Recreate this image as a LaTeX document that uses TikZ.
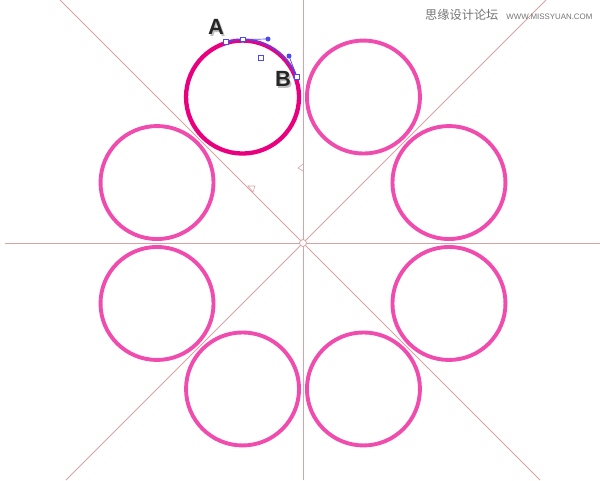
\documentclass[tikz,border=0pt]{standalone}
\usepackage{fontspec}
\setmainfont{Liberation Sans}
\newfontfamily\cjk{Noto Sans CJK SC}
\definecolor{guide}{HTML}{D9A3A3}
\definecolor{ring}{HTML}{F04CAE}
\definecolor{ringsel}{HTML}{E8007F}
\definecolor{pathblue}{HTML}{4A4AF0}
\tikzset{
  guideline/.style={guide,line width=0.8pt},
  ringline/.style={ring,line width=3.9pt},
  anchorpt/.style={rectangle,draw=pathblue,fill=white,line width=0.7pt,
    minimum size=4.5pt,inner sep=0pt},
  handlept/.style={circle,fill=pathblue,minimum size=5pt,inner sep=0pt},
  letter/.style={font=\bfseries\fontsize{22}{22}\selectfont}
}
\begin{document}
\begin{tikzpicture}[x=1pt,y=-1pt]
    \useasboundingbox (0,0) rectangle (600,480);
    %% guides
    \coordinate (o) at (303,243);
    \draw[guideline] (5,243) -- (600,243);
    \draw[guideline] (303,0) -- (303,480);
    \draw[guideline] (60,0) -- (540,480);
    \draw[guideline] (546,0) -- (66,480);
    \draw[guideline,line width=0.6pt] (248,186) -- (255,186) -- (253,192) -- cycle;
    \draw[guideline,line width=0.6pt] (303,164) -- (298,168) -- (303,171);
    \draw[guideline,fill=white] (o) circle (3.5);
    %% rings
    \foreach \a in {-67.5,-22.5,...,202.5}
        \draw[ringline] (o) ++(\a:158) circle (56.5);
    \draw[ringline,ringsel,line width=4.3pt] (o) ++(-112.5:158) coordinate (c1) circle (56.5);
    %% selected path
    \coordinate (pA) at (226,42);
    \coordinate (pT) at (243,39.5);
    \coordinate (pB) at (297,77);
    \coordinate (h1) at (268,39);
    \coordinate (h2) at (289,56);
    \draw[pathblue,line width=1.1pt] (pA) arc (-107:-20:57);
    \draw[pathblue,line width=0.7pt] (pT) -- (h1);
    \draw[pathblue,line width=0.7pt] (h2) -- (pB);
    \node[handlept] (n1) at (h1) {};
    \node[handlept] (n2) at (h2) {};
    \node[anchorpt] (a1) at (pA) {};
    \node[anchorpt] (a2) at (pT) {};
    \node[anchorpt] (a3) at (pB) {};
    \node[anchorpt] (cc) at (261,58) {};
    %% labels
    \node[letter,black!25] at (217.5,28.5) {A};
    \node[letter,black!85] (la) at (216,27) {A};
    \node[letter,black!25] at (284.5,80.5) {B};
    \node[letter,black!85] (lb) at (283,79) {B};
    %% watermark
    \node[anchor=west,text=black!55,inner sep=0pt] (wm) at (425,15)
        {{\cjk\fontsize{12.2}{13}\selectfont 思缘设计论坛}\hspace{8pt}{\fontsize{7.9}{8}\selectfont WWW.MISSYUAN.COM}};
\end{tikzpicture}
\end{document}
